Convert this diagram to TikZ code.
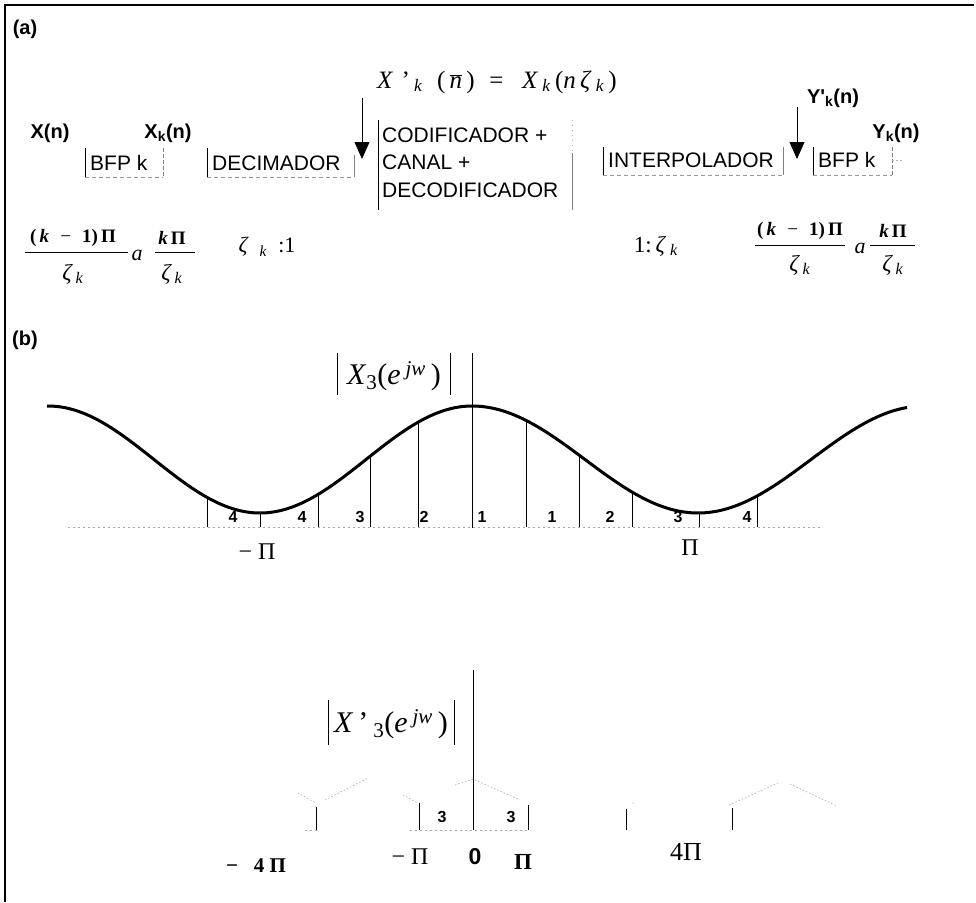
\documentclass[tikz,border=0pt]{standalone}
\usepackage{fontspec}
\setmainfont{Liberation Serif}
\setsansfont{Liberation Sans}
\usetikzlibrary{arrows.meta}
\newcommand\zk{\textit{ζ}\textsubscript{\,\textit{k}}}
\begin{document}
\begin{tikzpicture}[x=1pt,y=-1pt,
  sf/.style={font=\sffamily\fontsize{21}{24}\selectfont, inner sep=0pt},
  sfb/.style={font=\sffamily\bfseries\fontsize{20}{22}\selectfont, inner sep=0pt},
  num/.style={font=\sffamily\bfseries\fontsize{16}{18}\selectfont, inner sep=0pt},
  mth/.style={font=\fontsize{19}{21}\selectfont, inner sep=0pt},
  den/.style={font=\fontsize{23}{25}\selectfont, inner sep=0pt},
  big/.style={font=\fontsize{30}{32}\selectfont, inner sep=0pt},
  ledge/.style={line width=0.7pt, black},
  redge/.style={line width=0.6pt, gray, dash pattern=on 4pt off 2pt},
  bedge/.style={line width=0.6pt, gray!80, dash pattern=on 4pt off 3pt},
  bar/.style={line width=0.9pt},
  thinv/.style={line width=0.8pt},
  axis/.style={line width=0.8pt, gray!70, dash pattern=on 2pt off 3pt},
  tri/.style={line width=0.6pt, gray!70, dash pattern=on 1.5pt off 2pt},
  sig/.style={line width=0.8pt, -{Triangle[width=15pt,length=17pt]}},
  curve/.style={line width=3pt, line join=round}]
\useasboundingbox (0,0) rectangle (976,902);
% frame
\draw[line width=2pt] (5,902) -- (5,5) -- (974,5);
\node[sfb] (la) at (25,29) {(a)};
\node[sfb] (lb) at (25,340) {(b)};

% ---------- (a) block diagram ----------
\node[sfb] (xn) at (50,133) {X(n)};
\node[sfb] (xkn) at (168,133) {X\textsubscript{k}(n)};
% BFP k (1)
\node[sf, anchor=west] (bfp1) at (90,163) {BFP k};
\draw[ledge] (85,148) -- (85,177);
\draw[redge] (163,148) -- (163,177);
\draw[bedge] (85,177) -- (163,177);
% DECIMADOR
\node[sf, anchor=west] (dec) at (212,163) {DECIMADOR};
\draw[ledge] (207,148) -- (207,177);
\draw[thinv, gray] (354,155) -- (354,177);
\draw[bedge] (207,177) -- (354,177);
% CODIFICADOR
\node[sf, anchor=west] (cod1) at (382,135) {CODIFICADOR +};
\node[sf, anchor=west] (cod2) at (382,162) {CANAL +};
\node[sf, anchor=west] (cod3) at (382,190) {DECODIFICADOR};
\draw[ledge] (378,120) -- (378,210);
\draw[line width=0.6pt, gray!60, dash pattern=on 1pt off 4pt] (572,120) -- (572,153);
\draw[line width=0.6pt, gray] (572,153) -- (572,210);
% INTERPOLADOR
\node[sf, anchor=west] (int) at (608,160) {INTERPOLADOR};
\draw[ledge] (603,147) -- (603,175);
\draw[thinv, gray] (783,147) -- (783,175);
\draw[bedge] (603,175) -- (783,175);
% BFP k (2)
\node[sf, anchor=west] (bfp2) at (818,160) {BFP k};
\draw[ledge] (813,147) -- (813,175);
\draw[redge] (892,147) -- (892,175);
\draw[bedge] (813,175) -- (892,175);
\coordinate (outend) at (902,160);
\draw[line width=0.5pt, gray!60, dash pattern=on 2pt off 2pt] (892,160) -- (outend);
\node[sfb] (ykn) at (896,133) {Y\textsubscript{k}(n)};
\node[sfb] (ypkn) at (833,98) {Y\textquotesingle\textsubscript{k}(n)};

% equation and arrows
\node[font=\fontsize{25}{27}\selectfont, inner sep=0pt] (eq) at (497,82)
  {\textit{X}\,\,'\,\textsubscript{\textit{k}}\,\, (\,$\overline{\mbox{\textit{n}}}$\,)\,\, =\,\,\, \textit{X}\,\textsubscript{\textit{k}}\,(\textit{n}\,\textit{ζ}\,\textsubscript{\textit{k}}\,)};
\coordinate (a1s) at (362,98);
\coordinate (a1e) at (362,159);
\draw[sig] (a1s) -- (a1e);
\coordinate (a2s) at (797,107);
\coordinate (a2e) at (797,159);
\draw[sig] (a2s) -- (a2e);

% fractions left
\node[mth] (n1) at (73,238) {\textbf{(}\,\textbf{\textit{k}}\,\, −\,\, \textbf{1)}\,\textbf{Π}};
\node[den] (d1) at (73,274) {\zk};
\draw[bar] (25,252) -- (128,252);
\node[font=\fontsize{22}{24}\selectfont\itshape, inner sep=0pt] (a1) at (137,255) {a};
\node[mth] (n2) at (172,238) {\textbf{\textit{k}}\,\textbf{Π}};
\node[den] (d2) at (172,274) {\zk};
\draw[bar] (155,252) -- (195,252);
\node[font=\fontsize{22}{24}\selectfont, inner sep=0pt] (zk1) at (267,247) {\textit{ζ}\,\,\,\textsubscript{\textit{k}}\,\,\,:1};
% fractions right
\node[font=\fontsize{23}{25}\selectfont, inner sep=0pt] (zk2) at (656,246) {1:\,\textit{ζ}\,\textsubscript{\textit{k}}};
\node[mth] (n3) at (800,231) {\textbf{(}\,\textbf{\textit{k}}\,\, −\,\, \textbf{1)}\,\textbf{Π}};
\node[den] (d3) at (800,265) {\zk};
\draw[bar] (755,245) -- (845,245);
\node[font=\fontsize{22}{24}\selectfont\itshape, inner sep=0pt] (a2) at (860,248) {a};
\node[mth] (n4) at (893,231) {\textbf{\textit{k}}\,\textbf{Π}};
\node[den] (d4) at (893,265) {\zk};
\draw[bar] (870,245) -- (915,245);

% ---------- (b) upper spectrum ----------
\draw[axis] (68,527) -- (823,527);
\draw[thinv] (472,353) -- (472,528);
\draw[curve] plot[domain=47:472, samples=90, smooth] (\x, {459.5-53.5*cos((\x-472)/212*180)})
  -- plot[domain=472:907, samples=90, smooth] (\x, {459.5-53.5*cos((\x-472)/226*180)});
\foreach \xx in {207,260,318,370,418} {
  \pgfmathsetmacro\yy{459.5-53.5*cos((\xx-472)/212*180)}
  \draw[thinv] (\xx,527) -- (\xx,\yy);
}
\foreach \xx in {526,579,632,699,757} {
  \pgfmathsetmacro\yy{459.5-53.5*cos((\xx-472)/226*180)}
  \draw[thinv] (\xx,527) -- (\xx,\yy);
}
\node[num] (u1) at (233,517) {4};
\node[num] (u2) at (302,517) {4};
\node[num] (u3) at (360,517) {3};
\node[num] (u4) at (424,517) {2};
\node[num] (u5) at (482,517) {1};
\node[num] (u6) at (552,517) {1};
\node[num] (u7) at (610,517) {2};
\node[num] (u8) at (678,517) {3};
\node[num] (u9) at (747,517) {4};
\node[big] (x3) at (394,376) {\textit{X}\textsubscript{3}(\textit{e}\,\textsuperscript{\textit{jw}}\,)};
\draw[bar] (337,353) -- (337,395);
\draw[bar] (450,353) -- (450,395);
\node[font=\fontsize{24}{26}\selectfont, inner sep=0pt] (mpi1) at (257,552) {− Π};
\node[font=\fontsize{24}{26}\selectfont, inner sep=0pt] (pi1) at (690,548) {Π};

% ---------- (b) lower spectrum ----------
\draw[thinv] (473,670) -- (473,830);
\node[big] (xp3) at (391,724) {\textit{X}\,'\,\textsubscript{3}(\textit{e}\,\textsuperscript{\textit{jw}}\,)};
\draw[bar] (328,700) -- (328,745);
\draw[bar] (454,700) -- (454,745);
\draw[tri] (298,793) -- (316,803);
\draw[tri] (325,800) -- (368,778);
\draw[tri] (403,795) -- (418,803);
\draw[tri] (455,785) -- (473,779) -- (520,800);
\fill[gray!70] (633,803) circle (0.7);
\draw[tri] (729,805) -- (778,783);
\draw[tri] (790,784) -- (837,806);
\draw[axis] (305,830) -- (318,830);
\draw[axis] (410,830) -- (530,830);
\foreach \xx/\yt in {316/807,419/803,528/805,626/809,732/808} {
  \draw[thinv] (\xx,\yt) -- (\xx,830);
}
\node[num] (l3a) at (442,817) {3};
\node[num] (l3b) at (511,817) {3};
\node[font=\bfseries\fontsize{21}{23}\selectfont, inner sep=0pt] (m4pi) at (256,866) {−\,\,\, 4 Π};
\node[font=\fontsize{24}{26}\selectfont, inner sep=0pt] (mpi2) at (410,857) {− Π};
\node[font=\sffamily\bfseries\fontsize{23}{25}\selectfont, inner sep=0pt] (zero) at (475,857) {0};
\node[font=\bfseries\fontsize{23}{25}\selectfont, inner sep=0pt] (pi2) at (523,862) {Π};
\node[font=\fontsize{26}{28}\selectfont, inner sep=0pt] (fourpi) at (686,852) {4Π};
\end{tikzpicture}
\end{document}
